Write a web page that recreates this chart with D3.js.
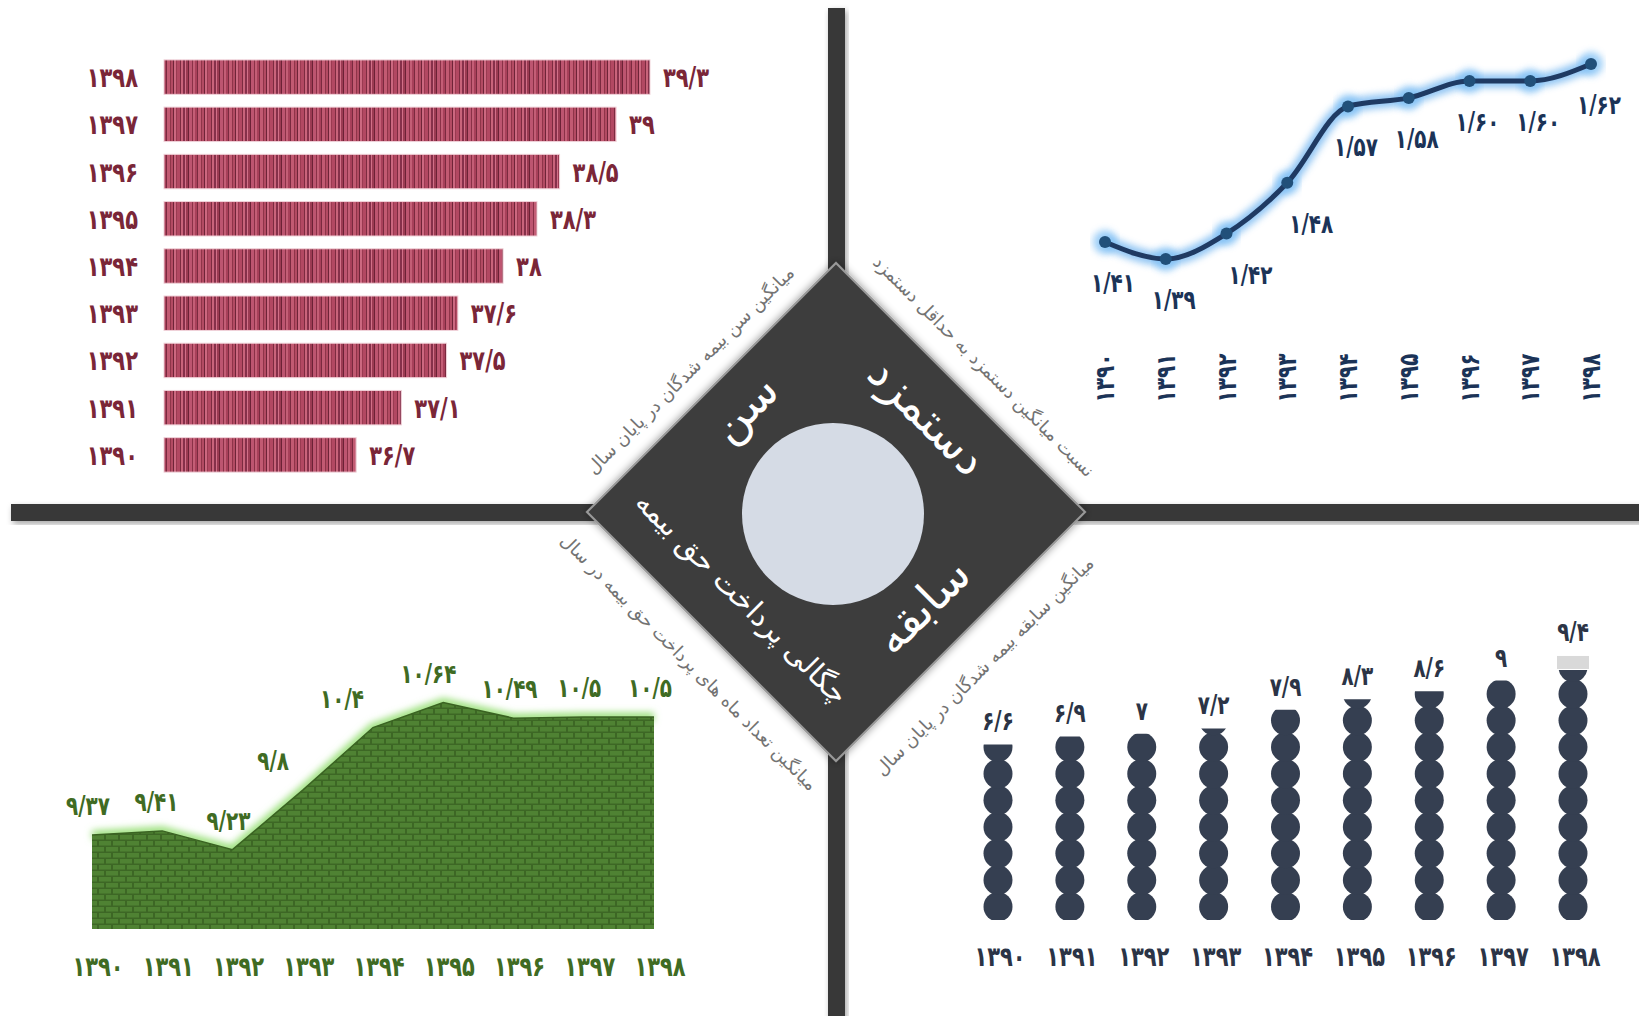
<!DOCTYPE html>
<html><head><meta charset="utf-8">
<script src="https://cdn.jsdelivr.net/npm/d3@7"></script>
<style>
html,body{margin:0;padding:0;background:#fff;}
svg{display:block;}
text{font-family:"DejaVu Sans",sans-serif;}
</style></head>
<body>
<svg id="chart" width="1639" height="1016"></svg>
<script>
// ---------- DATA ----------
const years = ["۱۳۹۰","۱۳۹۱","۱۳۹۲","۱۳۹۳","۱۳۹۴","۱۳۹۵","۱۳۹۶","۱۳۹۷","۱۳۹۸"];
const ageValues = [36.7, 37.1, 37.5, 37.6, 38, 38.3, 38.5, 39, 39.3];
const ageLabels = ["۳۶/۷","۳۷/۱","۳۷/۵","۳۷/۶","۳۸","۳۸/۳","۳۸/۵","۳۹","۳۹/۳"];
const wageRatio = [1.41, 1.39, 1.42, 1.48, 1.57, 1.58, 1.60, 1.60, 1.62];
const wageLabels = ["۱/۴۱","۱/۳۹","۱/۴۲","۱/۴۸","۱/۵۷","۱/۵۸","۱/۶۰","۱/۶۰","۱/۶۲"];
const monthValues = [9.37, 9.41, 9.23, 9.8, 10.4, 10.64, 10.49, 10.5, 10.5];
const monthLabels = ["۹/۳۷","۹/۴۱","۹/۲۳","۹/۸","۱۰/۴","۱۰/۶۴","۱۰/۴۹","۱۰/۵","۱۰/۵"];
const tenureValues = [6.6, 6.9, 7, 7.2, 7.9, 8.3, 8.6, 9, 9.4];
const tenureLabels = ["۶/۶","۶/۹","۷","۷/۲","۷/۹","۸/۳","۸/۶","۹","۹/۴"];
const centerTitles = ["سن","دستمزد","سابقه","چگالی پرداخت حق بیمه"];
const edgeTitles = ["میانگین سن بیمه شدگان در پایان سال","نسبت میانگین دستمزد به حداقل دستمزد","میانگین سابقه بیمه شدگان در پایان سال","میانگین تعداد ماه های پرداخت حق بیمه در سال"];

// ---------- SETUP ----------
const svg = d3.select("#chart");
const defs = svg.append("defs");
const TALL = 1.32; // vertical stretch for the narrow Persian digits

const sh = defs.append("filter").attr("id","shadow").attr("x","-20%").attr("y","-20%").attr("width","140%").attr("height","140%");
sh.append("feDropShadow").attr("dx",2).attr("dy",3).attr("stdDeviation",3).attr("flood-color","#000").attr("flood-opacity",0.35);
const sh2 = defs.append("filter").attr("id","shadow2").attr("x","-20%").attr("y","-20%").attr("width","140%").attr("height","140%");
sh2.append("feDropShadow").attr("dx",0).attr("dy",0).attr("stdDeviation",4).attr("flood-color","#000").attr("flood-opacity",0.45);
const blur = defs.append("filter").attr("id","blur").attr("x","-10%").attr("y","-30%").attr("width","120%").attr("height","160%");
blur.append("feGaussianBlur").attr("stdDeviation",3.5);

// stripe pattern for bars
const stripeSpec = [[2,"#a8405a"],[1,"#7a2a3f"],[3,"#c25a72"],[1,"#8f3449"],[2,"#b34b63"],[1,"#6f2438"],[2,"#cc6880"],[1,"#9a3a51"],
  [3,"#b24862"],[1,"#7c2b40"],[2,"#c9647b"],[2,"#86304a"],[1,"#d27088"],[2,"#9c3b53"],[1,"#6c2236"],[3,"#bd5570"],[1,"#8a3147"],[2,"#c45e76"]];
const stripeW = d3.sum(stripeSpec, d=>d[0]);
const sp = defs.append("pattern").attr("id","stripes").attr("patternUnits","userSpaceOnUse")
  .attr("x",164).attr("width",stripeW).attr("height",10);
let sx = 0;
stripeSpec.forEach(([w,c])=>{ sp.append("rect").attr("x",sx).attr("y",0).attr("width",w).attr("height",10).attr("fill",c); sx+=w; });

// brick pattern
const bp = defs.append("pattern").attr("id","bricks").attr("patternUnits","userSpaceOnUse")
  .attr("width",14).attr("height",12);
bp.append("rect").attr("width",14).attr("height",12).attr("fill","#3d6725");
bp.append("rect").attr("x",1).attr("y",1).attr("width",12).attr("height",4.5).attr("fill","#4f8233");
bp.append("rect").attr("x",-6).attr("y",7).attr("width",12).attr("height",4.5).attr("fill","#4f8233");
bp.append("rect").attr("x",8).attr("y",7).attr("width",12).attr("height",4.5).attr("fill","#4f8233");

// helper for stretched numeric labels
function numLabels(g, cls, data, xf, yf, opts){
  return g.selectAll("text."+cls).data(data).join("text").attr("class",cls)
    .attr("transform",(d,i)=>`translate(${xf(d,i)},${yf(d,i)})${opts.rot?` rotate(${opts.rot})`:""} scale(1,${TALL})`)
    .attr("text-anchor",opts.anchor||"middle")
    .attr("font-size",opts.size).attr("font-weight","bold").attr("fill",opts.color)
    .text((d,i)=>opts.text(d,i));
}

// ---------- CROSS BARS ----------
const cx = 836, cy = 512;
svg.append("rect").attr("x",828).attr("y",8).attr("width",17).attr("height",1016)
  .attr("fill","#383838").attr("filter","url(#shadow)");
svg.append("rect").attr("x",11).attr("y",504).attr("width",1639).attr("height",17)
  .attr("fill","#383838").attr("filter","url(#shadow)");

// ---------- TOP-LEFT: AGE BARS ----------
const ageColor = "#7a2638";
const xAge = d3.scaleLinear().domain([35, 39.3]).range([164, 650]);
const yAge = d3.scaleBand().domain(years.slice().reverse()).range([53.5, 478.5]).paddingInner(0.27).paddingOuter(0.135);
const gAge = svg.append("g");
gAge.selectAll("rect.bar").data(years).join("rect").attr("class","bar")
  .attr("x", xAge(35)).attr("y", d=>yAge(d))
  .attr("width", (d,i)=>xAge(ageValues[i])-xAge(35)).attr("height", yAge.bandwidth())
  .attr("fill","url(#stripes)").attr("stroke","#f1d3da").attr("stroke-width",1);
numLabels(gAge,"yr",years,()=>138,d=>yAge(d)+yAge.bandwidth()/2+10,{anchor:"end",size:21,color:ageColor,text:d=>d});
numLabels(gAge,"val",years,(d,i)=>xAge(ageValues[i])+13,d=>yAge(d)+yAge.bandwidth()/2+10,{anchor:"start",size:21,color:ageColor,text:(d,i)=>ageLabels[i]});

// ---------- TOP-RIGHT: WAGE LINE ----------
const navy = "#1f3a63";
const xW = d3.scalePoint().domain(years).range([1105, 1591]);
const yW = d3.scaleLinear().domain([1.39, 1.62]).range([259, 64]);
const line = d3.line().x((d,i)=>xW(years[i])).y(d=>yW(d)).curve(d3.curveMonotoneX);
const gW = svg.append("g");
gW.append("path").attr("d",line(wageRatio)).attr("fill","none").attr("stroke","#6fb4f0")
  .attr("stroke-width",14).attr("opacity",0.75).attr("filter","url(#blur)");
gW.selectAll("circle.glow").data(wageRatio).join("circle").attr("class","glow")
  .attr("cx",(d,i)=>xW(years[i])).attr("cy",d=>yW(d)).attr("r",12).attr("fill","#7fc0f5").attr("opacity",0.75).attr("filter","url(#blur)");
gW.append("path").attr("d",line(wageRatio)).attr("fill","none").attr("stroke",navy).attr("stroke-width",5);
gW.selectAll("circle.pt").data(wageRatio).join("circle").attr("class","pt")
  .attr("cx",(d,i)=>xW(years[i])).attr("cy",d=>yW(d)).attr("r",6).attr("fill","#21507a");
numLabels(gW,"val",wageRatio,(d,i)=>xW(years[i])+(i===2||i===3?24:8),d=>yW(d)+50,{size:20,color:"#1b3357",text:(d,i)=>wageLabels[i]});
numLabels(gW,"yr",years,d=>xW(d)+9,()=>378,{rot:-90,size:20,color:"#1b3357",text:d=>d});

// ---------- BOTTOM-LEFT: MONTHS AREA ----------
const green = "#3f6b23";
const xM = d3.scalePoint().domain(years).range([92, 654]);
const yM = d3.scaleLinear().domain([8.47, 10.64]).range([929, 702.5]);
const area = d3.area().x((d,i)=>xM(years[i])).y0(yM(8.47)).y1(d=>yM(d));
const mline = d3.line().x((d,i)=>xM(years[i])).y(d=>yM(d));
const gM = svg.append("g");
gM.append("path").attr("d",mline(monthValues)).attr("fill","none").attr("stroke","#9be07c").attr("stroke-width",9).attr("filter","url(#blur)");
gM.append("path").attr("d",area(monthValues)).attr("fill","url(#bricks)");
gM.append("path").attr("d",mline(monthValues)).attr("fill","none").attr("stroke","#3a6322").attr("stroke-width",1.5);
numLabels(gM,"val",monthValues,(d,i)=>xM(years[i]) - 4 - 45*Math.max(0, i>0 ? d-monthValues[i-1] : 0),d=>yM(d)-20,{size:20,color:green,text:(d,i)=>monthLabels[i]});
numLabels(gM,"yr",years,d=>xM(d)+6,()=>976,{size:21,color:green,text:d=>d});

// ---------- BOTTOM-RIGHT: TENURE DOT COLUMNS ----------
const dotColor = "#353f51";
const xT = d3.scalePoint().domain(years).range([998, 1573]);
const yT = d3.scaleLinear().domain([0, 10]).range([920, 654]);
const gT = svg.append("g");
tenureValues.forEach((v,i)=>{
  const x = xT(years[i]);
  const cp = defs.append("clipPath").attr("id","clipT"+i);
  cp.append("rect").attr("x",x-20).attr("y",yT(v)).attr("width",40).attr("height",yT(0)-yT(v));
  const col = gT.append("g").attr("clip-path",`url(#clipT${i})`);
  col.selectAll("ellipse").data(d3.range(Math.ceil(v))).join("ellipse")
    .attr("cx",x).attr("cy",k=>yT(k+0.5)).attr("rx",14.5).attr("ry",14.8).attr("fill",dotColor);
});
gT.append("rect").attr("x",xT(years[8])-16).attr("y",yT(tenureValues[8])-14).attr("width",32).attr("height",13).attr("fill","#d9d9d9");
numLabels(gT,"val",tenureValues,(d,i)=>xT(years[i]),(d,i)=>yT(d)-14-(i===8?15:0),{size:20,color:"#2b3446",text:(d,i)=>tenureLabels[i]});
numLabels(gT,"yr",years,d=>xT(d)+2,()=>966,{size:21,color:"#2b3446",text:d=>d});

// ---------- CENTER DIAMOND ----------
const R = 249;
const gC = svg.append("g");
gC.append("path").attr("d",`M${cx},${cy-R} L${cx+R},${cy} L${cx},${cy+R} L${cx-R},${cy} Z`)
  .attr("fill","#3e3e3e").attr("stroke","#9a9a9a").attr("stroke-width",2).attr("filter","url(#shadow2)");
gC.append("circle").attr("cx",cx-3).attr("cy",cy+2).attr("r",91).attr("fill","#d5dbe5");

const inner = [
  {t:centerTitles[0], x:cx-92, y:cy-104, r:-45, s:46},
  {t:centerTitles[1], x:cx+92, y:cy-96, r:45, s:46},
  {t:centerTitles[2], x:cx+86, y:cy+94, r:-45, s:46},
  {t:centerTitles[3], x:cx-94, y:cy+86, r:45, s:29}
];
gC.selectAll("text.inner").data(inner).join("text").attr("class","inner")
  .attr("transform",d=>`translate(${d.x},${d.y}) rotate(${d.r})`).attr("text-anchor","middle")
  .attr("dominant-baseline","central").attr("font-size",d=>d.s)
  .attr("fill","#ffffff").text(d=>d.t);

const edge = [
  {t:edgeTitles[0], x:cx-146, y:cy-142, r:-45},
  {t:edgeTitles[1], x:cx+148, y:cy-146, r:45},
  {t:edgeTitles[2], x:cx+148, y:cy+154, r:-45},
  {t:edgeTitles[3], x:cx-147, y:cy+150, r:45}
];
gC.selectAll("text.edge").data(edge).join("text").attr("class","edge")
  .attr("transform",d=>`translate(${d.x},${d.y}) rotate(${d.r})`).attr("text-anchor","middle")
  .attr("dominant-baseline","central").attr("font-size",18)
  .attr("fill","#737373").text(d=>d.t);
</script>
</body></html>
